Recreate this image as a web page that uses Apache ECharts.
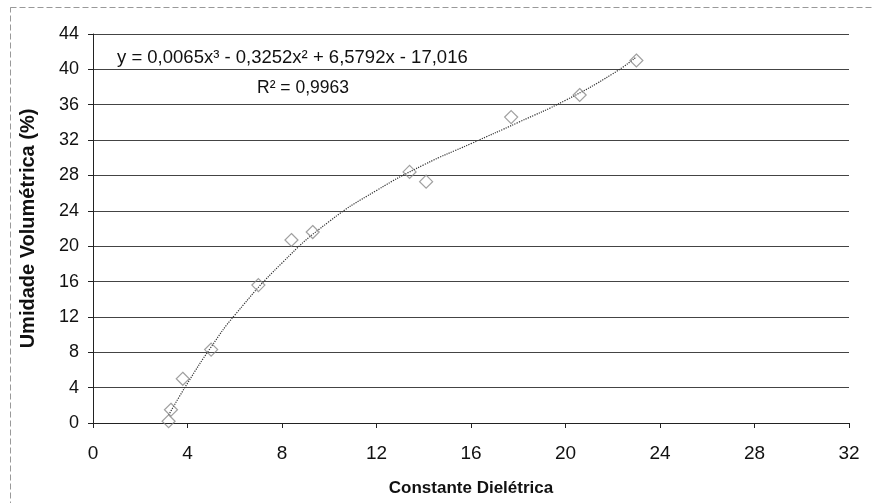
<!DOCTYPE html>
<html>
<head>
<meta charset="utf-8">
<script src="https://cdn.jsdelivr.net/npm/echarts@6/dist/echarts.min.js"></script>
<style>
  html, body { margin: 0; padding: 0; background: #fff; }
  #main { width: 873px; height: 503px; }
</style>
</head>
<body>
<div id="main"></div>
<script>
// measured points (dielectric constant, volumetric moisture %)
const dieletrica = [3.2, 3.3, 3.8, 5.0, 7.0, 8.4, 9.3, 13.4, 14.1, 17.7, 20.6, 23.0];
const umidade = [0.2, 1.5, 5.0, 8.3, 15.6, 20.7, 21.6, 28.4, 27.3, 34.6, 37.1, 41.0];

// trend line
const trendX = [3.2, 4, 5, 6, 8, 10, 12, 14, 16, 18, 20, 22, 23];
const trendY = [0.9, 4.5, 8.6, 12.2, 18.1, 22.8, 26.3, 29.2, 31.6, 34.0, 36.5, 39.5, 41.4];

const xTicks = [0, 4, 8, 12, 16, 20, 24, 28, 32];
const yTicks = [0, 4, 8, 12, 16, 20, 24, 28, 32, 36, 40, 44];

const equacao = 'y = 0,0065x³ - 0,3252x² + 6,5792x - 17,016';
const r2 = 'R² = 0,9963';

document.addEventListener('DOMContentLoaded', function () {
    drawChart();
});

function drawChart() {

    let myChart = echarts.init(document.getElementById('main'));

    let font = '"Liberation Sans", Arial, sans-serif';

    let option = {
        backgroundColor: '#fff',
        animation: false,
        grid: {
            left: 93,
            right: 24,
            top: 34,
            bottom: 80
        },
        xAxis: {
            type: 'value',
            min: xTicks[0],
            max: xTicks[xTicks.length - 1],
            interval: 4,
            name: 'Constante Dielétrica',
            nameLocation: 'middle',
            nameGap: 57,
            nameTextStyle: { fontFamily: font, fontSize: 17, fontWeight: 'bold', color: '#111' },
            axisLine: { lineStyle: { color: '#222', width: 1 } },
            axisTick: { show: true, inside: false, length: 5, lineStyle: { color: '#222' } },
            axisLabel: { fontFamily: font, fontSize: 19, color: '#111', margin: 21 },
            splitLine: { show: false }
        },
        yAxis: {
            type: 'value',
            min: yTicks[0],
            max: yTicks[yTicks.length - 1],
            interval: 4,
            name: 'Umidade Volumétrica (%)',
            nameLocation: 'middle',
            nameGap: 55,
            nameTextStyle: { fontFamily: font, fontSize: 20, fontWeight: 'bold', color: '#111' },
            axisLine: { show: true, lineStyle: { color: '#222', width: 1 } },
            axisTick: { show: true, inside: false, length: 5, lineStyle: { color: '#222' } },
            axisLabel: { fontFamily: font, fontSize: 18, color: '#111', margin: 14 },
            splitLine: { show: true, lineStyle: { color: '#444', width: 1 } }
        },
        graphic: [
            {
                type: 'rect',
                shape: { x: 10.5, y: 7.5, width: 900, height: 520 },
                style: { fill: 'none', stroke: '#999', lineWidth: 1, lineDash: [6, 3] },
                silent: true
            },
            {
                type: 'text',
                left: 117,
                top: 48,
                style: { text: equacao, font: '18.5px ' + font, fill: '#111' },
                z: 10
            },
            {
                type: 'text',
                left: 257,
                top: 79,
                style: { text: r2, font: '17.5px ' + font, fill: '#111' },
                z: 10
            }
        ],
        series: [
            {
                name: 'Tendência',
                type: 'line',
                smooth: true,
                showSymbol: false,
                data: trendX.map((x, i) => [x, trendY[i]]),
                lineStyle: { color: '#333', width: 1.2, type: 'dotted' },
                z: 3
            },
            {
                name: 'Medidas',
                type: 'scatter',
                symbol: 'diamond',
                symbolSize: 13,
                data: dieletrica.map((x, i) => [x, umidade[i]]),
                itemStyle: { color: 'rgba(255,255,255,0)', borderColor: '#888', borderWidth: 1.2 },
                z: 4
            }
        ]
    };

    myChart.setOption(option);
}
</script>
</body>
</html>
